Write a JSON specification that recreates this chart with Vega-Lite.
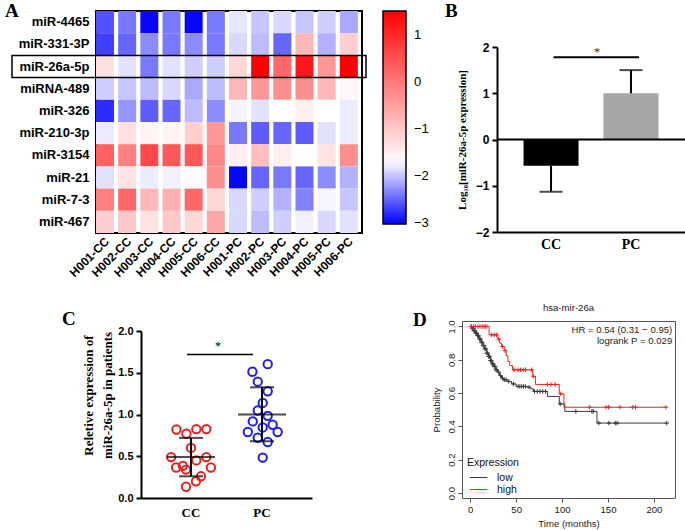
{
"$schema": "https://vega.github.io/schema/vega-lite/v6.json",
"autosize": {"type": "none"},
"padding": {"left": 96, "top": 11, "right": 589, "bottom": 519},
"background": "white",
"config": {
  "view": {"stroke": null},
  "font": "Liberation Sans",
  "axis": {"grid": false, "labelColor": "black", "domainColor": "black", "tickColor": "black", "titleColor": "black"},
  "title": {"color": "black"}
},
"bounds": "flush",
"spacing": 310,
"resolve": {"scale": {"color": "independent", "stroke": "independent"}, "legend": {"color": "independent", "stroke": "independent"}},
"vconcat": [
 {"bounds": "flush", "spacing": 135,
  "resolve": {"scale": {"color": "independent", "stroke": "independent"}, "legend": {"color": "independent", "stroke": "independent"}},
  "hconcat": [
  {
   "width": 266, "height": 222,
   "view": {"stroke": "black", "strokeWidth": 2},
   "title": {"text": "A", "anchor": "start", "frame": "group", "orient": "none", "offset": 0, "dx": -91, "dy": 6, "baseline": "alphabetic", "font": "Liberation Serif", "fontSize": 19, "fontWeight": "bold"},
   "layer": [
    {"data": {"values": [
{"m":"miR-4465","s":"H001-CC","v":-2.6},{"m":"miR-4465","s":"H002-CC","v":-2.4},{"m":"miR-4465","s":"H003-CC","v":-3.0},{"m":"miR-4465","s":"H004-CC","v":-2.4},{"m":"miR-4465","s":"H005-CC","v":-3.0},{"m":"miR-4465","s":"H006-CC","v":-2.4},{"m":"miR-4465","s":"H001-PC","v":-1.83},{"m":"miR-4465","s":"H002-PC","v":-2.0},{"m":"miR-4465","s":"H003-PC","v":-1.9},{"m":"miR-4465","s":"H004-PC","v":-2.0},{"m":"miR-4465","s":"H005-PC","v":-1.95},{"m":"miR-4465","s":"H006-PC","v":-2.15},
{"m":"miR-331-3P","s":"H001-CC","v":-2.7},{"m":"miR-331-3P","s":"H002-CC","v":-2.5},{"m":"miR-331-3P","s":"H003-CC","v":-2.3},{"m":"miR-331-3P","s":"H004-CC","v":-2.4},{"m":"miR-331-3P","s":"H005-CC","v":-2.3},{"m":"miR-331-3P","s":"H006-CC","v":-2.4},{"m":"miR-331-3P","s":"H001-PC","v":-1.9},{"m":"miR-331-3P","s":"H002-PC","v":-2.05},{"m":"miR-331-3P","s":"H003-PC","v":-2.5},{"m":"miR-331-3P","s":"H004-PC","v":-0.8},{"m":"miR-331-3P","s":"H005-PC","v":-2.1},{"m":"miR-331-3P","s":"H006-PC","v":-1.1},
{"m":"miR-26a-5p","s":"H001-CC","v":-1.3},{"m":"miR-26a-5p","s":"H002-CC","v":-1.85},{"m":"miR-26a-5p","s":"H003-CC","v":-2.4},{"m":"miR-26a-5p","s":"H004-CC","v":-1.85},{"m":"miR-26a-5p","s":"H005-CC","v":-1.95},{"m":"miR-26a-5p","s":"H006-CC","v":-1.95},{"m":"miR-26a-5p","s":"H001-PC","v":-1.2},{"m":"miR-26a-5p","s":"H002-PC","v":1.5},{"m":"miR-26a-5p","s":"H003-PC","v":0.2},{"m":"miR-26a-5p","s":"H004-PC","v":1.2},{"m":"miR-26a-5p","s":"H005-PC","v":-0.4},{"m":"miR-26a-5p","s":"H006-PC","v":1.5},
{"m":"miRNA-489","s":"H001-CC","v":-1.95},{"m":"miRNA-489","s":"H002-CC","v":-2.0},{"m":"miRNA-489","s":"H003-CC","v":-2.05},{"m":"miRNA-489","s":"H004-CC","v":-1.9},{"m":"miRNA-489","s":"H005-CC","v":-2.15},{"m":"miRNA-489","s":"H006-CC","v":-2.05},{"m":"miRNA-489","s":"H001-PC","v":-0.8},{"m":"miRNA-489","s":"H002-PC","v":-0.4},{"m":"miRNA-489","s":"H003-PC","v":-0.3},{"m":"miRNA-489","s":"H004-PC","v":-0.3},{"m":"miRNA-489","s":"H005-PC","v":-0.8},{"m":"miRNA-489","s":"H006-PC","v":-1.6},
{"m":"miR-326","s":"H001-CC","v":-2.8},{"m":"miR-326","s":"H002-CC","v":-2.25},{"m":"miR-326","s":"H003-CC","v":-2.55},{"m":"miR-326","s":"H004-CC","v":-2.5},{"m":"miR-326","s":"H005-CC","v":-2.05},{"m":"miR-326","s":"H006-CC","v":-2.3},{"m":"miR-326","s":"H001-PC","v":-1.75},{"m":"miR-326","s":"H002-PC","v":-1.85},{"m":"miR-326","s":"H003-PC","v":-1.7},{"m":"miR-326","s":"H004-PC","v":-1.5},{"m":"miR-326","s":"H005-PC","v":-1.7},{"m":"miR-326","s":"H006-PC","v":-1.8},
{"m":"miR-210-3p","s":"H001-CC","v":-1.8},{"m":"miR-210-3p","s":"H002-CC","v":-1.3},{"m":"miR-210-3p","s":"H003-CC","v":-1.55},{"m":"miR-210-3p","s":"H004-CC","v":-1.55},{"m":"miR-210-3p","s":"H005-CC","v":-1.1},{"m":"miR-210-3p","s":"H006-CC","v":-0.4},{"m":"miR-210-3p","s":"H001-PC","v":-2.4},{"m":"miR-210-3p","s":"H002-PC","v":-2.55},{"m":"miR-210-3p","s":"H003-PC","v":-2.5},{"m":"miR-210-3p","s":"H004-PC","v":-2.55},{"m":"miR-210-3p","s":"H005-PC","v":-1.85},{"m":"miR-210-3p","s":"H006-PC","v":-1.8},
{"m":"miR-3154","s":"H001-CC","v":0.3},{"m":"miR-3154","s":"H002-CC","v":-0.1},{"m":"miR-3154","s":"H003-CC","v":0.6},{"m":"miR-3154","s":"H004-CC","v":0.4},{"m":"miR-3154","s":"H005-CC","v":0.4},{"m":"miR-3154","s":"H006-CC","v":-0.2},{"m":"miR-3154","s":"H001-PC","v":-1.5},{"m":"miR-3154","s":"H002-PC","v":-0.9},{"m":"miR-3154","s":"H003-PC","v":-1.5},{"m":"miR-3154","s":"H004-PC","v":-1.7},{"m":"miR-3154","s":"H005-PC","v":-1.35},{"m":"miR-3154","s":"H006-PC","v":-0.3},
{"m":"miR-21","s":"H001-CC","v":-1.85},{"m":"miR-21","s":"H002-CC","v":-1.35},{"m":"miR-21","s":"H003-CC","v":-1.8},{"m":"miR-21","s":"H004-CC","v":-1.78},{"m":"miR-21","s":"H005-CC","v":-1.72},{"m":"miR-21","s":"H006-CC","v":-0.3},{"m":"miR-21","s":"H001-PC","v":-3.0},{"m":"miR-21","s":"H002-PC","v":-2.5},{"m":"miR-21","s":"H003-PC","v":-2.4},{"m":"miR-21","s":"H004-PC","v":-2.5},{"m":"miR-21","s":"H005-PC","v":-2.3},{"m":"miR-21","s":"H006-PC","v":-2.1},
{"m":"miR-7-3","s":"H001-CC","v":-0.1},{"m":"miR-7-3","s":"H002-CC","v":0.2},{"m":"miR-7-3","s":"H003-CC","v":-0.8},{"m":"miR-7-3","s":"H004-CC","v":-0.7},{"m":"miR-7-3","s":"H005-CC","v":0.2},{"m":"miR-7-3","s":"H006-CC","v":-1.2},{"m":"miR-7-3","s":"H001-PC","v":-1.9},{"m":"miR-7-3","s":"H002-PC","v":-1.95},{"m":"miR-7-3","s":"H003-PC","v":-2.1},{"m":"miR-7-3","s":"H004-PC","v":-2.35},{"m":"miR-7-3","s":"H005-PC","v":-1.75},{"m":"miR-7-3","s":"H006-PC","v":-2.0},
{"m":"miR-467","s":"H001-CC","v":-1.1},{"m":"miR-467","s":"H002-CC","v":-1.0},{"m":"miR-467","s":"H003-CC","v":-1.35},{"m":"miR-467","s":"H004-CC","v":-1.0},{"m":"miR-467","s":"H005-CC","v":-1.2},{"m":"miR-467","s":"H006-CC","v":-0.6},{"m":"miR-467","s":"H001-PC","v":-1.9},{"m":"miR-467","s":"H002-PC","v":-2.05},{"m":"miR-467","s":"H003-PC","v":-1.95},{"m":"miR-467","s":"H004-PC","v":-1.78},{"m":"miR-467","s":"H005-PC","v":-1.9},{"m":"miR-467","s":"H006-PC","v":-1.85}
     ]},
     "mark": {"type": "rect"},
     "encoding": {
      "x": {"field": "s", "type": "nominal", "scale": {"domain": ["H001-CC","H002-CC","H003-CC","H004-CC","H005-CC","H006-CC","H001-PC","H002-PC","H003-PC","H004-PC","H005-PC","H006-PC"]},
            "axis": {"title": null, "domain": false, "ticks": false, "labelAngle": -45, "labelAlign": "right", "labelBaseline": "middle", "labelFontSize": 12, "labelFontWeight": "bold", "labelPadding": 6, "labelOverlap": false}},
      "y": {"field": "m", "type": "nominal", "scale": {"domain": ["miR-4465","miR-331-3P","miR-26a-5p","miRNA-489","miR-326","miR-210-3p","miR-3154","miR-21","miR-7-3","miR-467"]},
            "axis": {"title": null, "domain": false, "ticks": false, "labelFontSize": 13, "labelFontWeight": "bold", "labelPadding": 7}},
      "color": {"field": "v", "type": "quantitative",
            "scale": {"domain": [-3.03, -1.7, 1.5], "range": ["#0000ff", "#ffffff", "#ff0000"], "interpolate": "rgb"},
            "legend": {"title": null, "orient": "none", "legendX": 287, "legendY": 0, "direction": "vertical", "gradientLength": 213, "gradientThickness": 23, "values": [-3,-2,-1,0,1], "labelFontSize": 13, "labelOffset": 8, "gradientStrokeColor": "black", "gradientStrokeWidth": 1.5, "labelColor": "black"}}
     }},
    {"data": {"values": [{"m": "miR-26a-5p", "a": "H001-CC", "b": "H006-PC"}]},
     "mark": {"type": "rect", "filled": false, "stroke": "black", "strokeWidth": 1.5, "xOffset": -84, "x2Offset": 4},
     "encoding": {"y": {"field": "m", "type": "nominal"},
                  "x": {"field": "a", "type": "nominal", "bandPosition": 0},
                  "x2": {"field": "b", "bandPosition": 1}}}
   ]
  },
  {"bounds": "flush", "spacing": 0, "vconcat": [
   {"width": 10, "height": 36, "data": {"values": []}, "mark": "point",
    "title": {"text": "B", "anchor": "start", "frame": "group", "orient": "none", "offset": 0, "dx": -52, "dy": 6, "baseline": "alphabetic", "font": "Liberation Serif", "fontSize": 19, "fontWeight": "bold"}},
   {
    "width": 188, "height": 185,
    "layer": [
     {"data": {"values": [{"g": "CC", "mean": -0.57, "base": 0, "err": -1.13}, {"g": "PC", "mean": 1.0, "base": 0, "err": 1.5}]},
      "encoding": {"x": {"field": "g", "type": "nominal", "scale": {"type": "band", "paddingInner": 0.308, "paddingOuter": 0.33},
                   "axis": {"title": null, "labelAngle": 0, "ticks": false, "domainWidth": 2, "labelFont": "Liberation Serif", "labelFontWeight": "bold", "labelFontSize": 14, "labelPadding": 5}}},
      "layer": [
       {"mark": {"type": "bar", "width": 55},
        "encoding": {"y": {"field": "mean", "type": "quantitative", "scale": {"domain": [-2, 2]},
                      "axis": {"values": [-2,-1,0,1,2], "title": "Log₁₀[miR-26a-5p expression]", "titleFont": "Liberation Serif", "titleFontWeight": "bold", "titleFontSize": 11, "titlePadding": 8, "labelFontSize": 12, "labelFontWeight": "bold", "domainWidth": 2, "tickWidth": 2, "tickSize": 5, "labelPadding": 3}},
                     "y2": {"field": "base"},
                     "fill": {"condition": {"test": "datum.g === 'CC'", "value": "#000000"}, "value": "#a6a6a6"}}},
       {"mark": {"type": "rule", "strokeWidth": 2, "color": "black"},
        "encoding": {"y": {"field": "mean", "type": "quantitative"}, "y2": {"field": "err"}}},
       {"mark": {"type": "tick", "thickness": 2, "size": 23, "color": "black"},
        "encoding": {"y": {"field": "err", "type": "quantitative"}}}
      ]},
     {"data": {"values": [{"z": 0}]},
      "mark": {"type": "rule", "strokeWidth": 2, "color": "black"},
      "encoding": {"y": {"field": "z", "type": "quantitative"}}},
     {"data": {"values": [{"a": "CC", "b": "PC", "y": 1.78, "ys": 1.9, "star": "*"}]},
      "layer": [
       {"mark": {"type": "rule", "strokeWidth": 2, "color": "black", "xOffset": 2.5, "x2Offset": 8},
        "encoding": {"x": {"field": "a", "type": "nominal"}, "x2": {"field": "b"}, "y": {"field": "y", "type": "quantitative"}}},
       {"mark": {"type": "text", "dx": 46, "font": "Liberation Serif", "fontSize": 13, "baseline": "middle", "color": "#333"},
        "encoding": {"x": {"field": "a", "type": "nominal"}, "y": {"field": "ys", "type": "quantitative"}, "text": {"field": "star"}}}
      ]}
    ]
   }
  ]}
 ]},
 {"bounds": "flush", "spacing": 0,
  "resolve": {"scale": {"color": "independent", "stroke": "independent"}, "legend": {"color": "independent", "stroke": "independent"}},
  "hconcat": [
  {"width": 45, "height": 1, "data": {"values": []}, "mark": "point"},
  {"bounds": "flush", "spacing": 0, "vconcat": [
   {"width": 1, "height": 10, "data": {"values": []}, "mark": "point"},
   {
    "width": 171, "height": 167,
    "title": {"text": "C", "anchor": "start", "frame": "group", "orient": "none", "offset": 0, "dx": -79, "dy": -6, "baseline": "alphabetic", "font": "Liberation Serif", "fontSize": 19, "fontWeight": "bold"},
    "layer": [
     {"data": {"values": [
{"g":"CC","j":-0.41,"v":0.82},{"g":"CC","j":-0.13,"v":0.77},{"g":"CC","j":0.15,"v":0.825},{"g":"CC","j":0.43,"v":0.825},{"g":"CC","j":0.0,"v":0.6},{"g":"CC","j":-0.56,"v":0.49},{"g":"CC","j":0.43,"v":0.49},{"g":"CC","j":0.15,"v":0.45},{"g":"CC","j":-0.42,"v":0.365},{"g":"CC","j":-0.23,"v":0.385},{"g":"CC","j":-0.14,"v":0.34},{"g":"CC","j":0.56,"v":0.365},{"g":"CC","j":0.28,"v":0.26},{"g":"CC","j":0.14,"v":0.2},{"g":"CC","j":-0.14,"v":0.135},
{"g":"PC","j":-0.27,"v":1.512},{"g":"PC","j":0.16,"v":1.603},{"g":"PC","j":-0.12,"v":1.393},{"g":"PC","j":0.16,"v":1.278},{"g":"PC","j":0.02,"v":1.139},{"g":"PC","j":-0.12,"v":1.048},{"g":"PC","j":0.16,"v":0.984},{"g":"PC","j":-0.26,"v":0.917},{"g":"PC","j":0.3,"v":0.877},{"g":"PC","j":0.02,"v":0.845},{"g":"PC","j":-0.4,"v":0.79},{"g":"PC","j":-0.12,"v":0.722},{"g":"PC","j":0.44,"v":0.79},{"g":"PC","j":0.16,"v":0.671},{"g":"PC","j":0.02,"v":0.484}
      ]},
      "mark": {"type": "point", "filled": false, "strokeWidth": 2, "size": 70, "opacity": 1},
      "encoding": {
       "x": {"field": "g", "type": "nominal", "scale": {"type": "band", "paddingInner": 0, "paddingOuter": 0.204},
             "axis": {"title": null, "labelAngle": 0, "ticks": false, "domainWidth": 2, "labelFont": "Liberation Serif", "labelFontWeight": "bold", "labelFontSize": 13, "labelPadding": 8}},
       "xOffset": {"field": "j", "type": "quantitative", "scale": {"domain": [-1, 1]}},
       "y": {"field": "v", "type": "quantitative", "scale": {"domain": [0, 2]},
             "axis": {"values": [0, 0.5, 1, 1.5, 2], "format": ".1f", "title": ["Reletive expression of", "miR-26a-5p in patients"], "titleFont": "Liberation Serif", "titleFontWeight": "bold", "titleFontSize": 13, "titleLineHeight": 19, "titlePadding": 3, "titleY": 64, "labelFontSize": 11, "labelFontWeight": "bold", "domainWidth": 2, "tickWidth": 2, "tickSize": 5, "labelPadding": 3}},
       "color": {"field": "g", "type": "nominal", "scale": {"range": ["#f01e1e", "#1e1ef0"]}, "legend": null}
      }},
     {"data": {"values": [{"g": "CC", "m": 0.49, "lo": 0.26, "hi": 0.72}, {"g": "PC", "m": 1.0, "lo": 0.68, "hi": 1.325}]},
      "layer": [
       {"mark": {"type": "rule", "strokeWidth": 2, "color": "black"},
        "encoding": {"x": {"field": "g", "type": "nominal"}, "y": {"field": "lo", "type": "quantitative"}, "y2": {"field": "hi"}}},
       {"mark": {"type": "tick", "thickness": 2, "size": 48, "color": "black"},
        "encoding": {"x": {"field": "g", "type": "nominal"}, "y": {"field": "m", "type": "quantitative"}}},
       {"mark": {"type": "tick", "thickness": 2, "size": 24, "color": "black"},
        "encoding": {"x": {"field": "g", "type": "nominal"}, "y": {"field": "lo", "type": "quantitative"}}},
       {"mark": {"type": "tick", "thickness": 2, "size": 24, "color": "black"},
        "encoding": {"x": {"field": "g", "type": "nominal"}, "y": {"field": "hi", "type": "quantitative"}}}
      ]},
     {"data": {"values": [{"a": "CC", "b": "PC", "y": 1.72, "ys": 1.82, "star": "*"}]},
      "layer": [
       {"mark": {"type": "rule", "strokeWidth": 1.5, "color": "black", "xOffset": -4, "x2Offset": -9},
        "encoding": {"x": {"field": "a", "type": "nominal"}, "x2": {"field": "b"}, "y": {"field": "y", "type": "quantitative"}}},
       {"mark": {"type": "text", "dx": 27, "font": "Liberation Serif", "fontSize": 12, "baseline": "middle", "color": "black"},
        "encoding": {"x": {"field": "a", "type": "nominal"}, "y": {"field": "ys", "type": "quantitative"}, "text": {"field": "star"}}}
      ]}
    ]
   }
  ]},
  {"width": 321, "height": 1, "data": {"values": []}, "mark": "point",
   "title": {"text": "D", "anchor": "start", "frame": "group", "orient": "none", "offset": 0, "dx": 272, "dy": 5, "baseline": "alphabetic", "font": "Liberation Serif", "fontSize": 19, "fontWeight": "bold"}},
  {
   "width": 213, "height": 177,
   "view": {"stroke": "#555555", "strokeWidth": 1},
   "title": {"text": "hsa-mir-26a", "fontSize": 9.6, "fontWeight": "normal", "font": "Liberation Sans", "anchor": "middle", "offset": 7, "color": "#222222"},
   "layer": [
    {"data": {"values": [
{"g":"low","t":0,"s":1.0},{"g":"low","t":2,"s":0.99},{"g":"low","t":4,"s":0.975},{"g":"low","t":6,"s":0.96},{"g":"low","t":8,"s":0.945},{"g":"low","t":10,"s":0.925},{"g":"low","t":12,"s":0.905},{"g":"low","t":14,"s":0.885},{"g":"low","t":16,"s":0.865},{"g":"low","t":18,"s":0.84},{"g":"low","t":20,"s":0.82},{"g":"low","t":22,"s":0.795},{"g":"low","t":24,"s":0.775},{"g":"low","t":26,"s":0.76},{"g":"low","t":28,"s":0.74},{"g":"low","t":30,"s":0.725},{"g":"low","t":32,"s":0.705},{"g":"low","t":34,"s":0.69},{"g":"low","t":36,"s":0.68},{"g":"low","t":40,"s":0.67},{"g":"low","t":45,"s":0.655},{"g":"low","t":50,"s":0.64},{"g":"low","t":62,"s":0.635},{"g":"low","t":66,"s":0.625},{"g":"low","t":69,"s":0.61},{"g":"low","t":84,"s":0.58},{"g":"low","t":97,"s":0.535},{"g":"low","t":103,"s":0.49},{"g":"low","t":138,"s":0.42},{"g":"low","t":214,"s":0.42},
{"g":"high","t":0,"s":1.0},{"g":"high","t":20.5,"s":0.95},{"g":"high","t":30,"s":0.925},{"g":"high","t":32,"s":0.9},{"g":"high","t":34,"s":0.88},{"g":"high","t":37,"s":0.855},{"g":"high","t":39,"s":0.825},{"g":"high","t":41,"s":0.79},{"g":"high","t":43,"s":0.765},{"g":"high","t":46,"s":0.74},{"g":"high","t":68,"s":0.7},{"g":"high","t":71,"s":0.652},{"g":"high","t":97,"s":0.596},{"g":"high","t":102,"s":0.515},{"g":"high","t":213,"s":0.515}
     ]},
     "mark": {"type": "line", "interpolate": "step-after", "strokeWidth": 1},
     "encoding": {
      "x": {"field": "t", "type": "quantitative", "scale": {"domain": [-9, 223], "nice": false, "zero": false},
            "axis": {"values": [0, 50, 100, 150, 200], "tickCount": 10, "domain": false, "tickColor": "#555555", "tickSize": 4, "labelFontSize": 9.6, "labelPadding": 2, "labelColor": "#222222", "labelFlush": false, "labelOverlap": false, "title": "Time (months)", "titleFontSize": 9.6, "titleFontWeight": "normal", "titlePadding": 5, "titleColor": "#222222"}},
      "y": {"field": "s", "type": "quantitative", "scale": {"domain": [-0.03, 1.033], "nice": false, "zero": false},
            "axis": {"values": [0, 0.2, 0.4, 0.6, 0.8, 1], "tickCount": 10, "format": ".1f", "domain": false, "tickColor": "#555555", "tickSize": 4, "labelAngle": 270, "labelAlign": "center", "labelBaseline": "bottom", "labelFontSize": 9.6, "labelPadding": 2, "labelColor": "#222222", "labelFlush": false, "labelOverlap": false, "title": "Probability", "titleFontSize": 9.6, "titleFontWeight": "normal", "titlePadding": 5, "titleColor": "#222222"}},
      "color": {"field": "g", "type": "nominal", "scale": {"domain": ["low", "high"], "range": ["#3a3a3a", "#ff2020"]},
            "legend": {"title": "Expression", "orient": "none", "legendX": 5, "legendY": 137, "symbolType": "M-0.6,0H2.6", "symbolSize": 121, "symbolStrokeWidth": 1, "titleFontWeight": "normal", "titleFontSize": 10.5, "labelFontSize": 10.5, "titleColor": "#111111", "labelColor": "#111111", "rowPadding": 0, "titlePadding": 3, "labelOffset": 18, "padding": 0}}
     }},
    {"data": {"values": [
{"g":"low","t":1,"s":1.0},{"g":"low","t":2,"s":0.99},{"g":"low","t":3,"s":0.99},{"g":"low","t":4,"s":0.975},{"g":"low","t":5,"s":0.975},{"g":"low","t":6,"s":0.96},{"g":"low","t":7,"s":0.96},{"g":"low","t":8,"s":0.945},{"g":"low","t":9,"s":0.945},{"g":"low","t":10,"s":0.925},{"g":"low","t":11,"s":0.925},{"g":"low","t":12,"s":0.905},{"g":"low","t":13,"s":0.905},{"g":"low","t":14,"s":0.885},{"g":"low","t":15,"s":0.885},{"g":"low","t":16,"s":0.865},{"g":"low","t":17,"s":0.865},{"g":"low","t":18,"s":0.84},{"g":"low","t":19,"s":0.84},{"g":"low","t":20,"s":0.82},{"g":"low","t":21,"s":0.82},{"g":"low","t":22,"s":0.795},{"g":"low","t":23,"s":0.795},{"g":"low","t":24,"s":0.775},{"g":"low","t":25,"s":0.775},{"g":"low","t":26,"s":0.76},{"g":"low","t":27,"s":0.76},{"g":"low","t":28,"s":0.74},{"g":"low","t":29,"s":0.74},{"g":"low","t":31,"s":0.725},{"g":"low","t":33,"s":0.705},{"g":"low","t":35,"s":0.69},{"g":"low","t":37,"s":0.68},{"g":"low","t":39,"s":0.68},{"g":"low","t":42,"s":0.67},{"g":"low","t":47,"s":0.655},{"g":"low","t":52,"s":0.64},{"g":"low","t":54,"s":0.64},{"g":"low","t":56,"s":0.64},{"g":"low","t":58,"s":0.64},{"g":"low","t":60,"s":0.64},{"g":"low","t":64,"s":0.635},{"g":"low","t":70,"s":0.61},{"g":"low","t":73,"s":0.61},{"g":"low","t":76,"s":0.61},{"g":"low","t":79,"s":0.61},{"g":"low","t":82,"s":0.61},{"g":"low","t":98,"s":0.535},{"g":"low","t":115,"s":0.49},{"g":"low","t":132.5,"s":0.49},{"g":"low","t":134,"s":0.49},{"g":"low","t":140,"s":0.42},{"g":"low","t":151,"s":0.42},{"g":"low","t":158,"s":0.42},{"g":"low","t":160,"s":0.42},{"g":"low","t":214,"s":0.42},
{"g":"high","t":1,"s":1.0},{"g":"high","t":3.6,"s":1.0},{"g":"high","t":5.5,"s":1.0},{"g":"high","t":8.4,"s":1.0},{"g":"high","t":10.6,"s":1.0},{"g":"high","t":13,"s":1.0},{"g":"high","t":15,"s":1.0},{"g":"high","t":16.4,"s":1.0},{"g":"high","t":18.2,"s":1.0},{"g":"high","t":23,"s":0.95},{"g":"high","t":26,"s":0.95},{"g":"high","t":28.5,"s":0.95},{"g":"high","t":31,"s":0.925},{"g":"high","t":35,"s":0.88},{"g":"high","t":38,"s":0.855},{"g":"high","t":47.8,"s":0.74},{"g":"high","t":52,"s":0.74},{"g":"high","t":54.7,"s":0.74},{"g":"high","t":57.7,"s":0.74},{"g":"high","t":60.2,"s":0.74},{"g":"high","t":66.8,"s":0.74},{"g":"high","t":69,"s":0.7},{"g":"high","t":84,"s":0.652},{"g":"high","t":88,"s":0.652},{"g":"high","t":92.5,"s":0.652},{"g":"high","t":98.5,"s":0.596},{"g":"high","t":130,"s":0.515},{"g":"high","t":148,"s":0.515},{"g":"high","t":150.5,"s":0.515},{"g":"high","t":163,"s":0.515},{"g":"high","t":177,"s":0.515},{"g":"high","t":180,"s":0.515},{"g":"high","t":213,"s":0.515}
     ]},
     "mark": {"type": "point", "shape": "M-1,0H1M0,-1V1", "filled": false, "strokeWidth": 1, "size": 20, "opacity": 1},
     "encoding": {
      "x": {"field": "t", "type": "quantitative"},
      "y": {"field": "s", "type": "quantitative"},
      "stroke": {"field": "g", "type": "nominal", "scale": {"domain": ["low", "high"], "range": ["#3a3a3a", "#ff2020"]}, "legend": null}
     }},
    {"data": {"values": [{"t": 220, "s": 0.976, "label": "HR = 0.54 (0.31 − 0.95)"}, {"t": 220, "s": 0.91, "label": "logrank P = 0.029"}]},
     "mark": {"type": "text", "align": "right", "baseline": "middle", "fontSize": 9.6, "color": "#222222"},
     "encoding": {"x": {"field": "t", "type": "quantitative"}, "y": {"field": "s", "type": "quantitative"}, "text": {"field": "label"}}}
   ]
  }
 ]}
]
}
